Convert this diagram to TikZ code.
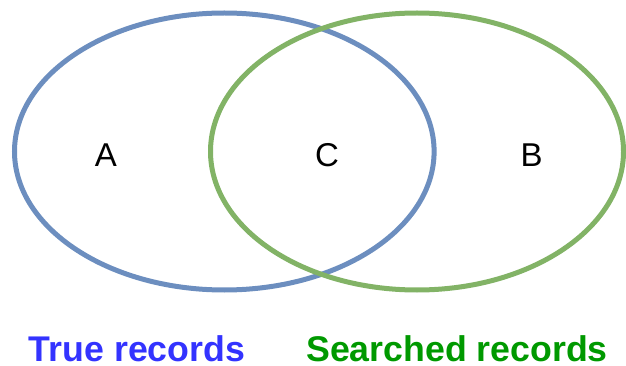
\documentclass[tikz,border=0pt]{standalone}
\usepackage{fontspec}
\setmainfont{Liberation Sans}
\definecolor{setblue}{HTML}{6C8EBF}
\definecolor{setgreen}{HTML}{82B366}
\definecolor{labelblue}{HTML}{3333FF}
\definecolor{labelgreen}{HTML}{009900}
\begin{document}
\begin{tikzpicture}[x=1pt,y=-1pt,
  setline/.style={line width=5pt},
  region/.style={font=\fontsize{33}{40}\selectfont, anchor=center},
  caption/.style={font=\fontsize{35.7}{40}\selectfont\bfseries, anchor=base, inner sep=0pt}]
\useasboundingbox (0,0) rectangle (626,366);
% the two sets
\draw[setline, setblue] (224.3,151.5) ellipse [x radius=209.8, y radius=138.5];
\draw[setline, setgreen] (417,151.5) ellipse [x radius=206.5, y radius=138.5];
% region letters
\node[region] (a) at (106,155) {A};
\node[region] (c) at (327,155) {C};
\node[region] (b) at (531.5,155) {B};
% captions
\node[caption, text=labelblue] (truerec) at (137,361.5) {True records};
\node[caption, text=labelgreen] (searchrec) at (457,361.5) {Searched records};
\end{tikzpicture}
\end{document}
